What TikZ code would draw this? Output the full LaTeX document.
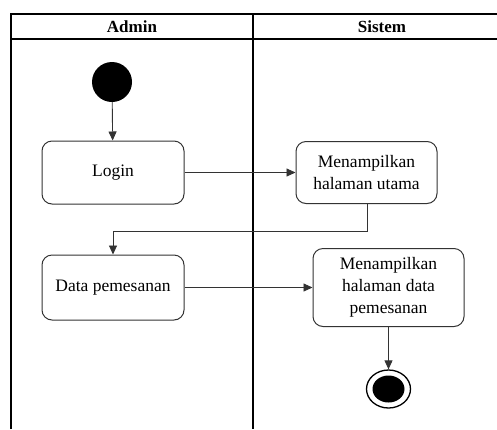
\documentclass[tikz,border=0pt]{standalone}
\usepackage{fontspec}
\setmainfont{Liberation Serif}
\usetikzlibrary{arrows.meta,shapes.geometric}
\begin{document}
\begin{tikzpicture}[x=1pt,y=-1pt,
  lane/.style={draw=black,line width=1.2pt},
  act/.style={draw=black!80,line width=1pt,rounded corners=10pt,align=center,
    font=\fontsize{17.5}{22}\selectfont,inner sep=0pt},
  hdr/.style={font=\fontsize{17}{20}\selectfont\bfseries},
  flow/.style={draw=black!80,line width=0.9pt,-{Triangle[width=8pt,length=9pt]}}]
\useasboundingbox (0,0) rectangle (497,429);
% swimlane frame
\draw[lane] (11,429) -- (11,14) -- (511,14);
\draw[lane] (11,39) -- (511,39);
\draw[lane] (253,14) -- (253,429);
\node[hdr] (hadmin) at (132,26.5) {Admin};
\node[hdr] (hsistem) at (382,26.5) {Sistem};
% nodes
\node[circle,fill=black,minimum size=40pt,inner sep=0pt] (start) at (112,82) {};
\node[act,minimum width=142pt,minimum height=63pt] (login) at (113,172.5) {Login};
\node[act,minimum width=141pt,minimum height=62pt] (utama) at (366.5,172.5) {Menampilkan\\halaman utama};
\node[act,minimum width=142pt,minimum height=65pt] (data) at (113,287.5) {Data pemesanan};
\node[act,minimum width=151pt,minimum height=78pt] (hdata) at (388.5,287.5) {Menampilkan\\halaman data\\pemesanan};
\node[ellipse,draw=black,line width=1.3pt,minimum width=44pt,minimum height=38pt,inner sep=0pt] (end) at (388.5,389) {};
\fill[black] (end.center) ellipse [x radius=16pt,y radius=13.5pt];
\coordinate (c1) at (367,231);
\coordinate (c2) at (113,231);
% connectors
\draw[flow] (start) -- (login);
\draw[flow] (login) -- (utama);
\draw[flow] (utama.south -| c1) -- (c1) -- (c2) -- (data);
\draw[flow] (data) -- (hdata);
\draw[flow] (hdata) -- (end);
\end{tikzpicture}
\end{document}
